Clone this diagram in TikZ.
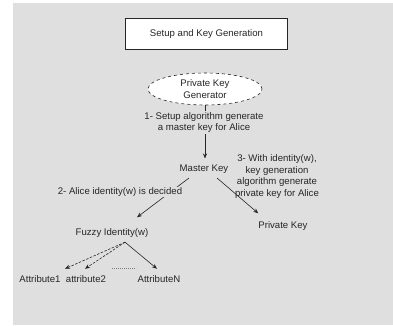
\documentclass[tikz,border=0pt]{standalone}
\usepackage{fontspec}
\setmainfont{Liberation Sans}
\usetikzlibrary{shapes.geometric,arrows.meta,calc}
\definecolor{bggray}{RGB}{223,223,223}
\definecolor{ink}{RGB}{38,38,38}
\begin{document}
\begin{tikzpicture}[x=1pt,y=-1pt,
  font=\fontsize{9.6}{11.7}\selectfont, text=ink,
  lbl/.style={inner sep=1pt, align=center},
  note/.style={lbl, fill=bggray},
  titlebox/.style={draw=ink, line width=1.4pt, fill=white,
    minimum width=162pt, minimum height=31pt},
  gen/.style={ellipse, draw=ink, dashed, line width=0.6pt, fill=white,
    minimum width=114pt, minimum height=32pt, inner sep=0pt, align=center},
  conn/.style={draw=ink, line width=0.6pt, -{Stealth[length=5pt,width=4pt]}},
  dconn/.style={conn, dash pattern=on 2.5pt off 1.5pt}]
\useasboundingbox (0,0) rectangle (393,326);
\fill[white] (0,0) rectangle (393,326);
\fill[bggray] (13,3) rectangle (393,325);

% heading
\node[titlebox] (title) at (206.5,34) {Setup and Key Generation};

% key generator and master key
\node[gen] (pkg) at (205,89) {Private Key\\Generator};
\node[lbl] (mk) at (204,169) {Master Key};
\draw[conn, shorten >=5pt] (pkg.south) -- (pkg.south |- mk.north);
\node[note] (s1) at (204,122.5) {1- Setup algorithm generate\\a master key for Alice};

% private key branch
\node[lbl] (pk) at (283,226) {Private Key};
\draw[conn] ($(mk.south)+(13,3.5)$) -- ($(pk.north west)+(1,-7)$);
\node[lbl] (s3) at (277,176.5) {3- With identity(w),\\key generation\\algorithm generate\\private key for Alice};

% identity branch
\node[lbl] (fz) at (112,233) {Fuzzy Identity(w)};
\draw[conn] ($(mk.south)+(-15,3.5)$) -- ($(fz.north)+(25,-10)$);
\node[note] (s2) at (120,192) {2- Alice identity(w) is decided};

% attributes
\node[lbl] (a1) at (40,279) {Attribute1};
\node[lbl] (a2) at (86,279) {attribute2};
\node[lbl] (aN) at (159,279) {AttributeN};
\coordinate (split) at ($(fz.south)+(13,3.5)$);
\draw[dconn] (split) -- ($(a1.north)+(25,-5.5)$);
\draw[dconn] (split) -- ($(a2.north)+(-1,-5.5)$);
\draw[conn] (split) -- ($(aN.north)+(-2,-5.5)$);
\coordinate (d1) at (112,268);
\coordinate (d2) at (136,268);
\draw[ink!60, line width=0.4pt, dash pattern=on 0.8pt off 1.2pt] (d1) -- (d2);
\end{tikzpicture}
\end{document}
